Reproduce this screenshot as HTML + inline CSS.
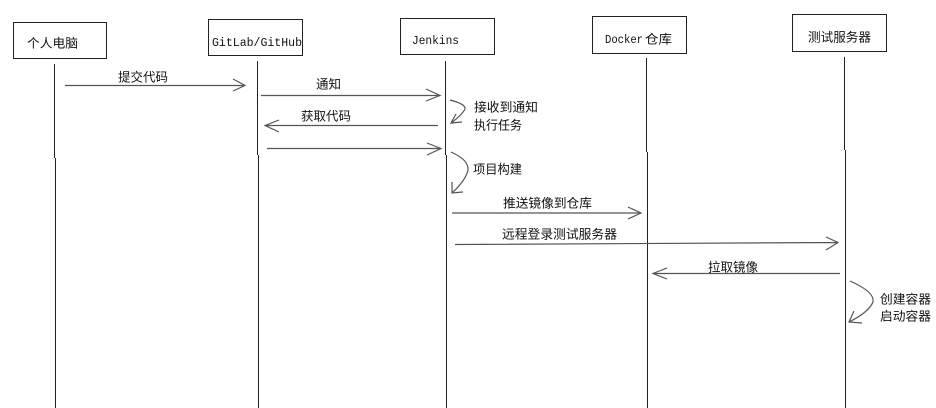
<!DOCTYPE html>
<html><head><meta charset="utf-8"><style>
html,body{margin:0;padding:0;background:#fff;}
svg{display:block;}
text{font-family:"Liberation Sans","Noto Sans CJK SC",sans-serif;font-size:12.5px;fill:#111;}
.m{font-family:"Liberation Mono","Noto Sans CJK SC",monospace;font-size:11.5px;}
</style></head><body>
<svg width="936" height="408" viewBox="0 0 936 408" xmlns="http://www.w3.org/2000/svg">
<g fill="none" stroke="#222" stroke-width="1">
<rect x="13.5" y="22.5" width="93" height="36"/>
<rect x="208.5" y="19.5" width="94" height="36"/>
<rect x="400.5" y="18.5" width="94" height="36"/>
<rect x="592.5" y="16.5" width="94" height="37"/>
<rect x="792.5" y="14.5" width="94" height="37"/>
<!-- lifelines -->
<path d="M54.5 64V158M55.5 158V408"/>
<path d="M257.5 61V155M258.5 155V408"/>
<path d="M445.5 61V155M446.5 155V408"/>
<path d="M646.5 58V152M647.5 152V408"/>
<path d="M844.5 57V150M845.5 150V408"/>
</g>
<g fill="none" stroke="#555" stroke-width="1.2">
<!-- 提交代码 -->
<path d="M65 85.5H245M233 79L245 85.5L233 91"/>
<!-- 通知 -->
<path d="M261 95.5H440M426 89L440 95.5L426 101"/>
<!-- 获取代码 -->
<path d="M438 125.5H265M279 120L265 125.5L279 132"/>
<!-- unlabeled -->
<path d="M267 148.5H441M427 143L441 148.5L427 155"/>
<!-- 推送 -->
<path d="M452 213H641M628 207L641 213L628 219"/>
<!-- 远程 -->
<path d="M455 244.5L838 242.5M826 237L838 242.5L826 250"/>
<!-- 拉取镜像 -->
<path d="M840 273.5H653M667 268L653 273.5L667 279"/>
<!-- self loops -->
<path d="M450 100Q466 104 465 109Q462 115 451 123M456 114L451 123L462 122"/>
<path d="M451 152Q469 160 468 170Q466 180 452 193M452 182L452 193L463 192"/>
<path d="M850 281Q875 292 873 302Q869 312 849 322M854 311L849 322L862 323"/>
</g>
<text x="27" y="47.5" textLength="51" lengthAdjust="spacingAndGlyphs">个人电脑</text>
<text class="m" x="212" y="46" textLength="90" lengthAdjust="spacingAndGlyphs">GitLab/GitHub</text>
<text class="m" x="412" y="44" textLength="47" lengthAdjust="spacingAndGlyphs">Jenkins</text>
<text class="m" x="605" y="43" textLength="38" lengthAdjust="spacingAndGlyphs">Docker</text>
<text x="645" y="43.5" textLength="27" lengthAdjust="spacingAndGlyphs">仓库</text>
<text x="808" y="41.5" textLength="63" lengthAdjust="spacingAndGlyphs">测试服务器</text>
<text x="118" y="81.5" textLength="50" lengthAdjust="spacingAndGlyphs">提交代码</text>
<text x="316" y="88.5" textLength="25" lengthAdjust="spacingAndGlyphs">通知</text>
<text x="301" y="120.5" textLength="50" lengthAdjust="spacingAndGlyphs">获取代码</text>
<text x="474" y="111.5" textLength="64" lengthAdjust="spacingAndGlyphs">接收到通知</text>
<text x="474" y="129.5" textLength="48" lengthAdjust="spacingAndGlyphs">执行任务</text>
<text x="473" y="173.5" textLength="49" lengthAdjust="spacingAndGlyphs">项目构建</text>
<text x="503" y="207.5" textLength="89" lengthAdjust="spacingAndGlyphs">推送镜像到仓库</text>
<text x="502" y="238.5" textLength="115" lengthAdjust="spacingAndGlyphs">远程登录测试服务器</text>
<text x="708" y="271.5" textLength="50" lengthAdjust="spacingAndGlyphs">拉取镜像</text>
<text x="880" y="303.5" textLength="51" lengthAdjust="spacingAndGlyphs">创建容器</text>
<text x="880" y="320.5" textLength="51" lengthAdjust="spacingAndGlyphs">启动容器</text>
</svg>
</body></html>
